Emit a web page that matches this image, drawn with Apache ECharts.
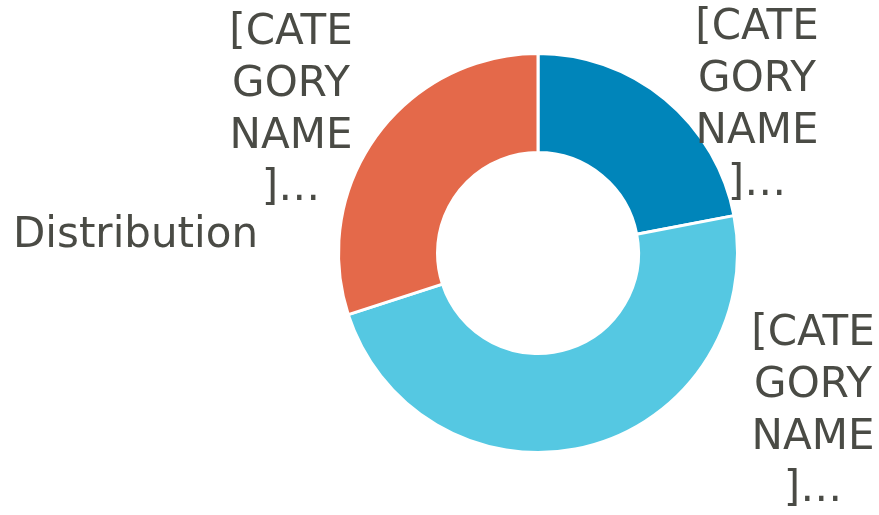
<!DOCTYPE html>
<html>
<head>
<meta charset="utf-8">
<script src="https://cdn.jsdelivr.net/npm/echarts@6/dist/echarts.min.js"></script>
<style>html,body{margin:0;padding:0;background:#fff}#c{width:879px;height:515px}</style>
</head>
<body>
<div id="c"></div>
<script>
var categories = ["[CATEGORY NAME]", "[CATEGORY NAME]", "[CATEGORY NAME]"];
var values = [22, 48, 30];
var colors = ["#0085BA", "#55C8E2", "#E4694A"];
var titleText = "Distribution";

var labelSpots = [[757, 106], [813, 412], [291, 111]];
var chart = echarts.init(document.getElementById('c'));
var font = "DejaVu Sans";
chart.setOption({
  animation: false,
  title: {
    text: titleText, left: 8, top: 210,
    textStyle: { fontFamily: font, fontSize: 42, fontWeight: 'normal', color: '#4a4b45' }
  },
  series: [{
    type: 'pie',
    center: [538, 253],
    radius: [100.5, 199.5],
    startAngle: 90,
    clockwise: true,
    itemStyle: { borderColor: '#fff', borderWidth: 3 },
    label: {
      show: true,
      position: 'outside',
      fontFamily: font, fontSize: 42, color: '#4a4b45', lineHeight: 52, align: 'center',
      formatter: function (p) {
        return p.name.slice(0, 5) + "\n" + p.name.slice(5, 9) + "\n" + p.name.slice(10, 14) + "\n" + p.name.slice(14) + "…";
      }
    },
    labelLine: { show: false },
    labelLayout: function (p) {
      var s = labelSpots[p.dataIndex];
      return { x: s[0], y: s[1], align: 'center', verticalAlign: 'middle' };
    },
    emphasis: { disabled: true },
    data: categories.map(function (c, i) { return { name: c, value: values[i], itemStyle: { color: colors[i] } }; })
  }]
});
</script>
</body>
</html>
